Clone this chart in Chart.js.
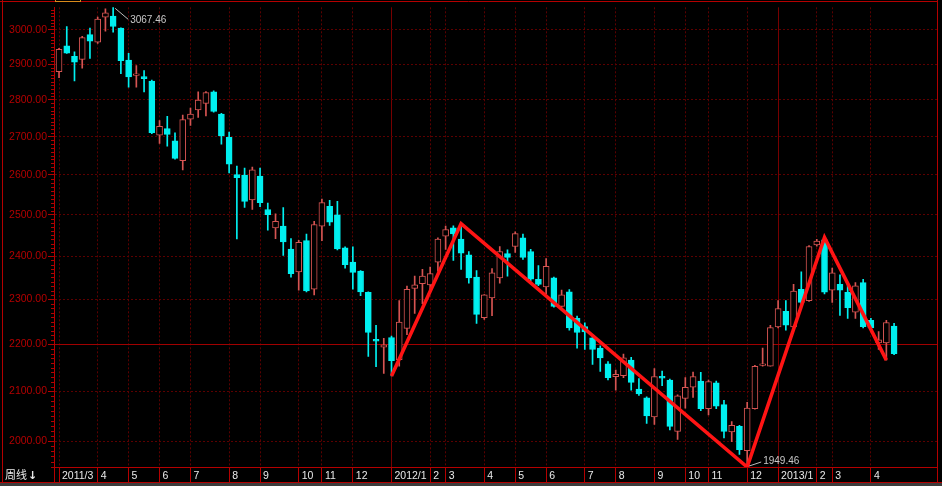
<!DOCTYPE html>
<html>
<head>
<meta charset="utf-8">
<script src="https://cdn.jsdelivr.net/npm/chart.js@4.4.1/dist/chart.umd.min.js"></script>
<style>
  html, body { margin: 0; padding: 0; background: #000; }
  canvas { display: block; background: #000; }
</style>
</head>
<body>
<canvas id="kline" width="942" height="486"></canvas>
<script>
// weekly candles, Mar 2011 - Apr 2013 (index = week number)
const openPrices = [
  2879, 2953, 2923, 2914, 2986, 2964, 3038, 3041, 3005, 2912,
  2868, 2865, 2852, 2704, 2722, 2689, 2637, 2747, 2772, 2790,
  2822, 2761, 2698, 2601, 2600, 2537, 2597, 2513, 2468, 2472,
  2417, 2363, 2437, 2323, 2472, 2521, 2500, 2420, 2386, 2365,
  2316, 2211, 2194, 2215, 2167, 2235, 2325, 2336, 2333, 2386,
  2448, 2468, 2441, 2403, 2351, 2259, 2303, 2349, 2406, 2423,
  2444, 2411, 2346, 2328, 2349, 2284, 2317, 2257, 2239, 2214,
  2192, 2158, 2131, 2133, 2166, 2105, 2087, 2048, 2132, 2124,
  2019, 2086, 2109, 2122, 2065, 2118, 2073, 2018, 2029, 1981,
  2065, 2155, 2153, 2238, 2273, 2238, 2323, 2297, 2427, 2439,
  2321, 2334, 2316, 2271, 2338, 2253, 2203, 2203, 2240
];
const highPrices = [
  2946, 3010, 2936, 2981, 3005, 3038, 3063, 3067.46, 3006, 2931,
  2896, 2882, 2855, 2743, 2755, 2710, 2758, 2777, 2822, 2823,
  2825, 2763, 2712, 2623, 2618, 2620, 2618, 2529, 2502, 2518,
  2442, 2438, 2453, 2484, 2539, 2536, 2533, 2422, 2422, 2366,
  2317, 2242, 2213, 2218, 2297, 2330, 2353, 2369, 2374, 2444,
  2472, 2473, 2478.38, 2411, 2366, 2311, 2371, 2423, 2415, 2458,
  2453, 2416, 2378, 2394, 2351, 2321, 2322, 2262, 2247, 2221,
  2197, 2163, 2145, 2179, 2172, 2127, 2089, 2148, 2143, 2126,
  2093, 2129, 2141, 2140, 2124, 2122, 2082, 2039, 2031, 2078,
  2155, 2192, 2242, 2297, 2297, 2334, 2363, 2425, 2440, 2444.80,
  2372, 2356, 2334, 2338, 2346, 2257, 2228, 2253, 2246
];
const lowPrices = [
  2862, 2931, 2853, 2889, 2917, 2960, 2996, 2993, 2873, 2835,
  2835, 2822, 2708, 2682, 2675, 2641, 2613, 2730, 2752, 2756,
  2766, 2680, 2605, 2441, 2518, 2513, 2520, 2462, 2442, 2402,
  2351, 2321, 2317, 2310, 2437, 2474, 2415, 2372, 2323, 2308,
  2174, 2152, 2138, 2132.63, 2153, 2221, 2268, 2290, 2316, 2365,
  2416, 2390, 2369, 2337, 2246, 2255, 2263, 2337, 2353, 2409,
  2392, 2342, 2331, 2313, 2282, 2282, 2231, 2192, 2189, 2157,
  2142, 2124, 2103, 2129, 2103, 2092, 2035, 2033, 2112, 2022,
  2003, 2066, 2088, 2061, 2052, 2065, 2006, 1999, 1974, 1949.46,
  2064, 2153, 2153, 2236, 2231, 2236, 2290, 2295, 2424, 2312,
  2293, 2264, 2257, 2257, 2236, 2228, 2189, 2166, 2178
];
const closePrices = [
  2943, 2932, 2906, 2977, 2967, 3032, 3051, 3010, 2910, 2864,
  2873, 2859, 2711, 2728, 2706, 2643, 2746, 2761, 2799, 2820,
  2768, 2702, 2628, 2593, 2533, 2613, 2530, 2500, 2484, 2434,
  2359, 2433, 2319, 2476, 2530, 2482, 2417, 2380, 2362, 2317,
  2226, 2207, 2199, 2165, 2249, 2323, 2333, 2353, 2359, 2441,
  2464, 2453, 2407, 2349, 2266, 2310, 2361, 2411, 2397, 2454,
  2397, 2346, 2334, 2376, 2284, 2310, 2236, 2226, 2227, 2189,
  2171, 2129, 2136, 2171, 2119, 2095, 2050, 2131, 2128, 2029,
  2091, 2109, 2131, 2065, 2121, 2070, 2019, 2031, 1983, 2066,
  2153, 2158, 2237, 2279, 2242, 2319, 2293, 2423, 2436, 2316,
  2361, 2321, 2281, 2331, 2239, 2236, 2210, 2248, 2180
];

// red zigzag through the swing points
const zigzagIndex = [43, 52, 89, 99, 107];
const zigzagValue = [2132.63, 2478.38, 1949.46, 2444.80, 2166];

// month ticks on the time axis
const tickIndex = [0, 5, 9, 13, 17, 22, 26, 31, 34, 38, 43, 48, 50, 55, 59, 63, 68, 72, 77, 81, 84, 89, 93, 98, 100, 105];
const tickText = ["2011/3", "4", "5", "6", "7", "8", "9", "10", "11", "12", "2012/1", "2", "3", "4", "5", "6", "7", "8", "9", "10", "11", "12", "2013/1", "2", "3", "4"];
const yearTicks = [43, 93];

const yTickValues = [2000, 2100, 2200, 2300, 2400, 2500, 2600, 2700, 2800, 2900, 3000];

// labelled extremes: [week index, price]
const markHigh = [7, 3067.46];
const markLow = [89, 1949.46];

const upColor = "#d65452";
const downColor = "#00f0f0";
const axisRed = "#b40000";
const gridRed = "#5c0000";

const isUp = closePrices.map((c, i) => c > openPrices[i]);
const wickData = highPrices.map((h, i) => ({ x: i, y: [lowPrices[i], h] }));
const bodyData = openPrices.map((o, i) => ({ x: i, y: [o, closePrices[i]] }));
const zigzagData = zigzagIndex.map((x, i) => ({ x: x, y: zigzagValue[i] }));

const decorPlugin = {
  id: "decor",
  afterDraw(chart) {
    const { ctx, chartArea, scales } = chart;
    const xs = scales.x;
    const ys = scales.y;
    ctx.save();

    // minor ticks on the price axis
    ctx.strokeStyle = axisRed;
    ctx.lineWidth = 1;
    ctx.beginPath();
    for (let v = 1950; v <= 3060; v += 10) {
      if (v % 100 === 0) continue;
      const y = Math.round(ys.getPixelForValue(v)) + 0.5;
      ctx.moveTo(chartArea.left - 3, y);
      ctx.lineTo(chartArea.left, y);
    }
    ctx.stroke();

    // frame lines
    ctx.beginPath();
    ctx.moveTo(2.5, 0);
    ctx.lineTo(2.5, 482);
    ctx.moveTo(0, 1.5);
    ctx.lineTo(chartArea.right, 1.5);
    ctx.moveTo(chartArea.right + 0.5, 0);
    ctx.lineTo(chartArea.right + 0.5, 482);
    ctx.moveTo(chartArea.left + 0.5, chartArea.bottom);
    ctx.lineTo(chartArea.left + 0.5, 482);
    ctx.moveTo(0, 482.5);
    ctx.lineTo(942, 482.5);
    ctx.stroke();

    ctx.fillStyle = "#3c3c3c";
    ctx.fillRect(0, 483, 942, 3);

    // little orange box at the top
    ctx.strokeStyle = "#d88a1a";
    ctx.strokeRect(55.5, -4.5, 25, 6);

    // period label
    ctx.fillStyle = "#e8e8e8";
    ctx.textBaseline = "middle";
    ctx.font = "11px 'Noto Sans CJK SC', sans-serif";
    ctx.fillText("周线", 5, 475);
    ctx.font = "bold 11px 'DejaVu Sans', sans-serif";
    ctx.fillText("↓", 28, 476);

    // extreme value notes
    ctx.strokeStyle = "#bcbcbc";
    ctx.fillStyle = "#c8c8c8";
    ctx.font = "10px 'Liberation Sans', Arial, sans-serif";
    const hx = xs.getPixelForValue(markHigh[0]);
    const hy = ys.getPixelForValue(markHigh[1]);
    ctx.beginPath();
    ctx.moveTo(hx + 2, hy + 1);
    ctx.lineTo(hx + 15, hy + 12);
    ctx.stroke();
    ctx.fillText(markHigh[1].toFixed(2), hx + 17, hy + 13);

    const lx = xs.getPixelForValue(markLow[0]);
    const ly = ys.getPixelForValue(markLow[1]);
    ctx.beginPath();
    ctx.moveTo(lx + 2, ly - 1);
    ctx.lineTo(lx + 14, ly - 5);
    ctx.stroke();
    ctx.fillText(markLow[1].toFixed(2), lx + 16, ly - 6);

    ctx.restore();
  }
};

new Chart(document.getElementById("kline"), {
  type: "bar",
  data: {
    datasets: [
      {
        type: "line",
        data: zigzagData,
        borderColor: "#ff1414",
        borderWidth: 3.6,
        pointRadius: 0,
        tension: 0,
        order: 0
      },
      {
        data: bodyData,
        backgroundColor: isUp.map((u) => (u ? "#000000" : downColor)),
        borderColor: isUp.map((u) => (u ? upColor : downColor)),
        borderWidth: 1,
        borderSkipped: false,
        barThickness: 6,
        grouped: false,
        order: 1
      },
      {
        data: wickData,
        backgroundColor: isUp.map((u) => (u ? upColor : downColor)),
        borderWidth: 0,
        barThickness: 1,
        grouped: false,
        order: 2
      }
    ]
  },
  options: {
    responsive: false,
    devicePixelRatio: 1,
    animation: false,
    layout: { padding: { top: 1, right: 5, bottom: 0, left: 0 } },
    plugins: { legend: { display: false }, tooltip: { enabled: false } },
    scales: {
      x: {
        type: "linear",
        min: -0.65,
        max: 113.55,
        bounds: "data",
        offset: false,
        afterBuildTicks: (scale) => {
          scale.ticks = tickIndex.map((v) => ({ value: v }));
        },
        afterFit: (scale) => {
          scale.height = 19;
        },
        grid: {
          offset: false,
          color: (c) => (c.tick && yearTicks.includes(c.tick.value) ? "#760000" : gridRed),
          tickLength: 15,
          tickColor: axisRed
        },
        border: {
          color: axisRed,
          dash: (c) => (c.tick && yearTicks.includes(c.tick.value) ? [] : [2, 2])
        },
        ticks: {
          autoSkip: false,
          maxRotation: 0,
          minRotation: 0,
          align: "start",
          labelOffset: 3,
          padding: -12,
          color: "#e8e8e8",
          font: { family: "'Liberation Sans', Arial, sans-serif", size: 10.5 },
          callback: (v, i) => tickText[i]
        }
      },
      y: {
        type: "logarithmic",
        min: 1949.46,
        max: 3067.46,
        bounds: "data",
        afterBuildTicks: (scale) => {
          scale.ticks = yTickValues.map((v) => ({ value: v }));
        },
        afterFit: (scale) => {
          scale.width = 54;
        },
        grid: {
          color: (c) => (c.tick && c.tick.value === 2200 ? "#a00000" : gridRed),
          tickLength: 6,
          tickColor: axisRed
        },
        border: {
          color: axisRed,
          dash: (c) => (c.tick && c.tick.value === 2200 ? [] : [2, 2])
        },
        ticks: {
          autoSkip: false,
          padding: 1,
          color: axisRed,
          font: { family: "'Liberation Sans', Arial, sans-serif", size: 10.5 },
          callback: (v) => Number(v).toFixed(2)
        }
      }
    }
  },
  plugins: [decorPlugin]
});
</script>
</body>
</html>
